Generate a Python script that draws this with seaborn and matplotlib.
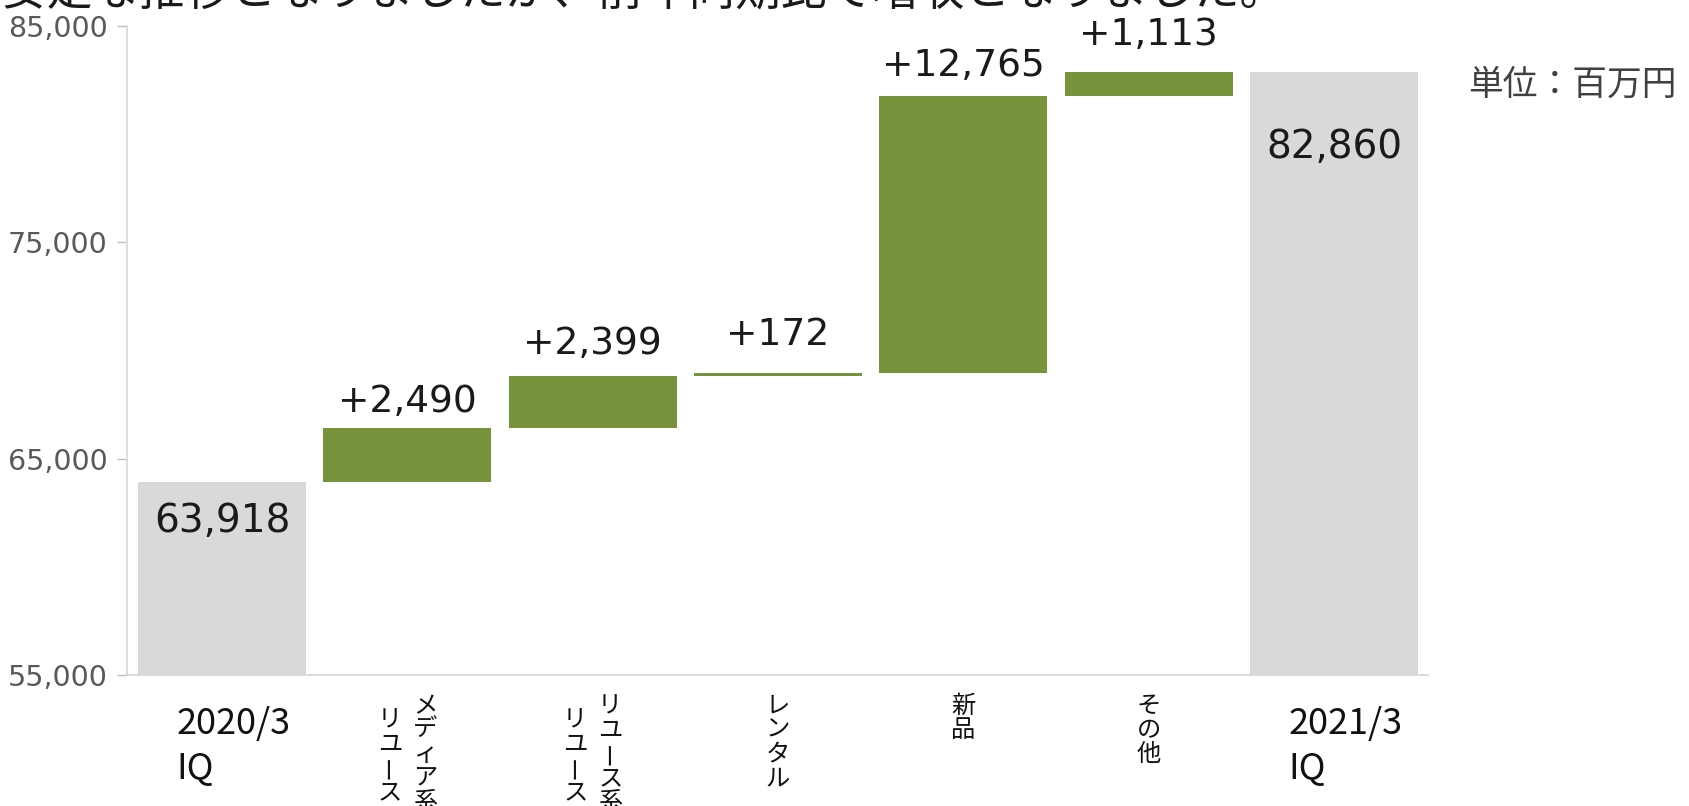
import matplotlib
matplotlib.use("Agg")
import matplotlib.pyplot as plt
import seaborn as sns
import pandas as pd

# ---------------- data ----------------
categories = ["2020/3\nIQ", "メディア系\nリユース", "リユース系\nリユース", "レンタル", "新品", "その他", "2021/3\nIQ"]
kinds = ["total", "delta", "delta", "delta", "delta", "delta", "total"]
values = [63918, 2490, 2399, 172, 12765, 1113, 82860]
bar_labels = ["63,918", "+2,490", "+2,399", "+172", "+12,765", "+1,113", "82,860"]
yticks = [55000, 65000, 75000, 85000]
ytick_labels = ["55,000", "65,000", "75,000", "85,000"]
title_text = "不安定な推移となりましたが、前年同期比で増収となりました。"
unit_text = "単位：百万円"

# ---------------- style ----------------
sns.set_style("white")
plt.rcParams['font.family'] = ['DejaVu Sans', 'Noto Sans CJK JP']
GREEN = "#77933C"
GRAY = "#D9D9D9"
W, H = 1690, 806

# label offsets (points) – style only
label_offsets = [-14, 11.5, 16, 20, 14.5, 20, -40]

bottoms = []
running = 0
for k, v in zip(kinds, values):
    if k == "total":
        bottoms.append(0)
        running = v
    else:
        bottoms.append(running)
        running += v

ids = [f"c{i}" for i in range(len(categories))]
df = pd.DataFrame({"cat": ids, "value": values})
palette = {i: (GRAY if k == "total" else GREEN) for i, k in zip(ids, kinds)}

fig = plt.figure(figsize=(W / 100, H / 100), dpi=100)
ax = fig.add_axes([127 / W, 1 - 675 / H, (1428 - 127) / W, (675 - 26) / H])

sns.barplot(data=df, x="cat", y="value", hue="cat", order=ids, hue_order=ids,
            palette=palette, width=0.907, saturation=1, legend=False,
            linewidth=0, ax=ax)

# shift each bar to start at its waterfall base
for container, b in zip(ax.containers, bottoms):
    for patch in container:
        patch.set_y(b)

ax.set_xlim(-0.513, 6.507)
ax.set_ylim(55000, 85000)
ax.set_yticks(yticks)
ax.set_yticklabels(ytick_labels, fontsize=20.5, color="#595959")
ax.set_xticks(range(len(ids)))
ax.set_xticklabels([])
ax.set_xlabel("")
ax.set_ylabel("")
ax.tick_params(axis="x", length=0)
ax.tick_params(axis="y", length=7, width=1, color="#BFBFBF", pad=7, left=True)
for s in ["top", "right"]:
    ax.spines[s].set_visible(False)
for s in ["left", "bottom"]:
    ax.spines[s].set_color("#D9D9D9")
    ax.spines[s].set_linewidth(1.3)

# value labels
for i, (k, v, b, lab) in enumerate(zip(kinds, values, bottoms, bar_labels)):
    top = b + v
    if k == "total":
        ax.annotate(lab, xy=(i, top), xytext=(0, label_offsets[i]),
                    textcoords="offset points", ha="center", va="top",
                    fontsize=28, color="#1a1a1a")
    else:
        ax.annotate(lab, xy=(i, top), xytext=(0, label_offsets[i]),
                    textcoords="offset points", ha="center", va="baseline",
                    fontsize=27, color="#1a1a1a")

# category labels
xt = ax.get_xaxis_transform()
PX = 0.72  # points per pixel at dpi 100
for i, cat in enumerate(categories):
    lines = cat.split("\n")
    if cat[0].isdigit():
        for j, line in enumerate(lines):
            ax.annotate(line, xy=(i, 0), xycoords=xt,
                        xytext=(-46 * PX, -(31 + 45 * j) * PX), textcoords="offset points",
                        ha="left", va="top", fontsize=26,
                        family=["Noto Sans CJK JP"], color="#111111",
                        annotation_clip=False)
    else:
        n = len(lines)
        for j, line in enumerate(lines):
            dx = ((n - 1) / 2 - j) * 35
            top = 18 + 14 * j
            for c_i, ch in enumerate(line):
                rot = 90 if ch == "ー" else 0
                ax.annotate(ch, xy=(i, 0), xycoords=xt,
                            xytext=(dx * PX, -(top + 24 * c_i) * PX), textcoords="offset points",
                            ha="center", va="top", fontsize=17.5, rotation=rot,
                            family=["Noto Sans CJK JP"], color="#111111",
                            annotation_clip=False)

# unit and clipped headline
fig.text(1468 / W, 1 - 85 / H, unit_text, ha="left", va="center", fontsize=25,
         color="#404040", family=["Noto Sans CJK JP"])
fig.text(1285 / W, 1 - 5 / H, title_text, ha="right", va="baseline", fontsize=33,
         color="#1a1a1a", family=["Noto Sans CJK JP"])

fig.savefig("out.png", dpi=100)
